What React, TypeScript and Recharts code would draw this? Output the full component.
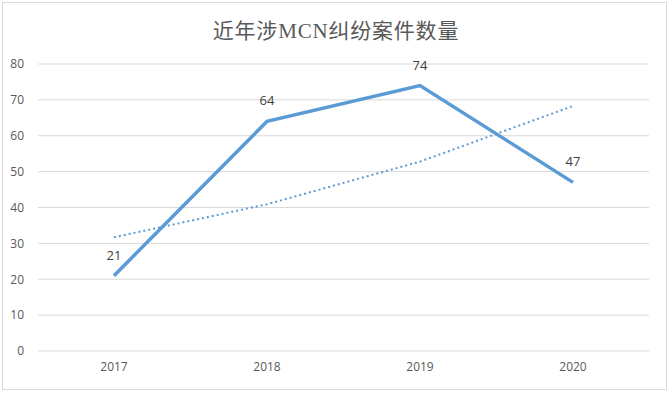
import { LineChart, Line, XAxis, YAxis, CartesianGrid, LabelList } from "recharts";

// 近年涉MCN纠纷案件数量
const years = ["2017", "2018", "2019", "2020"];
const caseCounts = [21, 64, 74, 47];
// dotted trend line (exponential)
const trendValues = [31.7, 40.9, 52.8, 68.3];
const yTicks = [0, 10, 20, 30, 40, 50, 60, 70, 80];

const data = years.map((year, i) => ({
    year,
    count: caseCounts[i],
    trend: trendValues[i],
}));

const LINE_COLOR = "#5B9BD5";
const TEXT_COLOR = "#595959";
const FONT = "'Open Sans', 'Noto Sans CJK SC', sans-serif";

const App = () => {
    return (
        <div style={{ position: "absolute", left: 0, top: 0, width: 672, height: 395, background: "#fff" }}>
            {/* outer frame */}
            <div
                style={{
                    position: "absolute",
                    left: 2,
                    top: 2,
                    width: 663,
                    height: 386,
                    border: "1px solid #D9D9D9",
                }}
            />
            <div
                style={{
                    position: "absolute",
                    left: 0,
                    top: 14,
                    width: 672,
                    textAlign: "center",
                    fontFamily: "'Liberation Serif', 'Noto Sans CJK SC', serif",
                    fontSize: 21,
                    letterSpacing: 0.8,
                    color: TEXT_COLOR,
                }}
            >
                近年涉MCN纠纷案件数量
            </div>
            <div style={{ position: "absolute", left: 0, top: 0 }}>
                <LineChart width={672} height={395} data={data} margin={{ top: 64, right: 23, bottom: 14, left: 0 }}>
                    <CartesianGrid vertical={false} stroke="#D9D9D9" />
                    <XAxis
                        dataKey="year"
                        axisLine={false}
                        tickLine={false}
                        height={30}
                        padding={{ left: 76, right: 76 }}
                        tick={{ fill: TEXT_COLOR, fontSize: 12, fontFamily: FONT }}
                        tickMargin={5}
                    />
                    <YAxis
                        domain={[0, 80]}
                        ticks={yTicks}
                        axisLine={false}
                        tickLine={false}
                        width={38}
                        tick={{ fill: TEXT_COLOR, fontSize: 12, fontFamily: FONT }}
                        tickMargin={8}
                    />
                    <Line
                        dataKey="trend"
                        stroke={LINE_COLOR}
                        strokeWidth={2}
                        strokeDasharray="2 3"
                        dot={false}
                        type="linear"
                        isAnimationActive={false}
                    />
                    <Line
                        dataKey="count"
                        stroke={LINE_COLOR}
                        strokeWidth={3.5}
                        dot={false}
                        type="linear"
                        isAnimationActive={false}
                    >
                        <LabelList
                            dataKey="count"
                            position="top"
                            offset={16}
                            fill="#404040"
                            fontSize={13}
                            fontFamily={FONT}
                        />
                    </Line>
                </LineChart>
            </div>
        </div>
    );
};

export default App;
